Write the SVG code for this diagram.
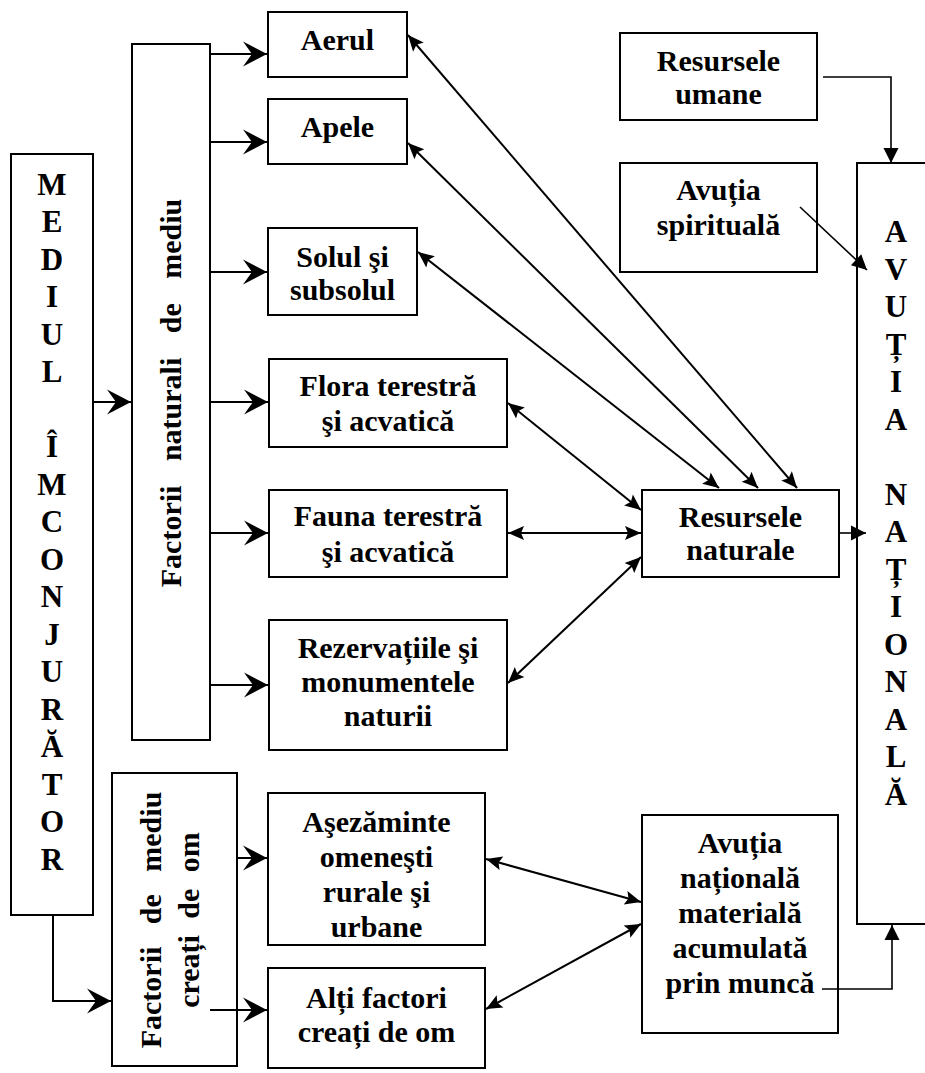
<svg xmlns="http://www.w3.org/2000/svg" width="925" height="1073" viewBox="0 0 925 1073">
<style>
.box{fill:#fff;stroke:#000;stroke-width:2}
.t{font-family:"Liberation Serif","Times New Roman",serif;font-weight:bold;font-size:30px;text-anchor:middle;fill:#000}
.v{font-family:"Liberation Serif","Times New Roman",serif;font-weight:bold;font-size:31px;text-anchor:middle;fill:#000}
.c{fill:none;stroke:#000;stroke-width:2}
.c2{fill:none;stroke:#000;stroke-width:1.6}
.big{marker-end:url(#big)}
.dbl{marker-start:url(#tri);marker-end:url(#tri)}
.one{marker-end:url(#tri2)}
</style>
<defs>
<marker id="big" markerUnits="userSpaceOnUse" markerWidth="30" markerHeight="30" refX="0" refY="0" orient="auto" overflow="visible">
<path d="M0,0 L-24,-12.5 L-15,0 L-24,12.5 Z" fill="#000"/>
</marker>
<marker id="tri" markerUnits="userSpaceOnUse" markerWidth="20" markerHeight="20" refX="0" refY="0" orient="auto-start-reverse" overflow="visible">
<path d="M0,0 L-16,-7 L-13,0 L-16,7 Z" fill="#000"/>
</marker>
<marker id="tri2" markerUnits="userSpaceOnUse" markerWidth="20" markerHeight="20" refX="0" refY="0" orient="auto" overflow="visible">
<path d="M0,0 L-15,-7.5 L-15,7.5 Z" fill="#000"/>
</marker>
</defs>

<g id="mediul">
<rect class="box" x="11" y="154" width="82" height="761"/>
<text class="v" x="52" y="195">M</text>
<text class="v" x="52" y="232">E</text>
<text class="v" x="52" y="269.5">D</text>
<text class="v" x="52" y="307">I</text>
<text class="v" x="52" y="344.5">U</text>
<text class="v" x="52" y="382">L</text>
<text class="v" x="52" y="457">Î</text>
<text class="v" x="52" y="494.5">M</text>
<text class="v" x="52" y="532">C</text>
<text class="v" x="52" y="569.5">O</text>
<text class="v" x="52" y="607">N</text>
<text class="v" x="52" y="644.5">J</text>
<text class="v" x="52" y="682">U</text>
<text class="v" x="52" y="719.5">R</text>
<text class="v" x="52" y="757">Ă</text>
<text class="v" x="52" y="794.5">T</text>
<text class="v" x="52" y="832">O</text>
<text class="v" x="52" y="869.5">R</text>
</g>

<g id="factori-naturali">
<rect class="box" x="132" y="44" width="78" height="696"/>
<text class="t" transform="translate(181,393) rotate(-90)" word-spacing="17">Factorii naturali de mediu</text>
</g>

<g id="aerul">
<rect class="box" x="268" y="12" width="139" height="65"/>
<text class="t" x="337.5" y="50">Aerul</text>
</g>
<g id="apele">
<rect class="box" x="268" y="99" width="139" height="65"/>
<text class="t" x="337.5" y="137">Apele</text>
</g>
<g id="solul">
<rect class="box" x="268" y="228" width="149" height="87"/>
<text class="t" x="342.5" y="267">Solul şi</text>
<text class="t" x="342.5" y="300">subsolul</text>
</g>
<g id="flora">
<rect class="box" x="269" y="359" width="238" height="88"/>
<text class="t" x="388" y="396">Flora terestră</text>
<text class="t" x="388" y="431">şi acvatică</text>
</g>
<g id="fauna">
<rect class="box" x="269" y="490" width="238" height="87"/>
<text class="t" x="388" y="526">Fauna terestră</text>
<text class="t" x="388" y="562">şi acvatică</text>
</g>
<g id="rezervatiile">
<rect class="box" x="269" y="620" width="238" height="130"/>
<text class="t" x="388" y="658">Rezervațiile şi</text>
<text class="t" x="388" y="692">monumentele</text>
<text class="t" x="388" y="726">naturii</text>
</g>

<g id="factori-creati">
<rect class="box" x="112" y="773" width="125" height="293"/>
<text class="t" transform="translate(161,920) rotate(-90)" word-spacing="15">Factorii de mediu</text>
<text class="t" transform="translate(199,920) rotate(-90)" word-spacing="9">creați de om</text>
</g>
<g id="asezaminte">
<rect class="box" x="268" y="793" width="217" height="152"/>
<text class="t" x="376.5" y="832">Aşezăminte</text>
<text class="t" x="376.5" y="867">omeneşti</text>
<text class="t" x="376.5" y="902">rurale şi</text>
<text class="t" x="376.5" y="937">urbane</text>
</g>
<g id="alti-factori">
<rect class="box" x="268" y="968" width="217" height="100"/>
<text class="t" x="376.5" y="1008">Alți factori</text>
<text class="t" x="376.5" y="1042">creați de om</text>
</g>

<g id="resurse-naturale">
<rect class="box" x="642" y="490" width="197" height="87"/>
<text class="t" x="740.5" y="527">Resursele</text>
<text class="t" x="740.5" y="560">naturale</text>
</g>
<g id="avutia-materiala">
<rect class="box" x="642" y="815" width="196" height="218"/>
<text class="t" x="740" y="853">Avuția</text>
<text class="t" x="740" y="888">națională</text>
<text class="t" x="740" y="923">materială</text>
<text class="t" x="740" y="958">acumulată</text>
<text class="t" x="740" y="993">prin muncă</text>
</g>
<g id="resurse-umane">
<rect class="box" x="620" y="33" width="197" height="87"/>
<text class="t" x="718.5" y="71">Resursele</text>
<text class="t" x="718.5" y="104">umane</text>
</g>
<g id="avutia-spirituala">
<rect class="box" x="620" y="163" width="197" height="109"/>
<text class="t" x="718.5" y="200">Avuția</text>
<text class="t" x="718.5" y="235">spirituală</text>
</g>

<g id="avutia-nationala">
<rect class="box" x="857" y="163" width="90" height="761"/>
<text class="v" x="896" y="242">A</text>
<text class="v" x="896" y="279.5">V</text>
<text class="v" x="896" y="317">U</text>
<text class="v" x="896" y="354.5">Ț</text>
<text class="v" x="896" y="392">I</text>
<text class="v" x="896" y="429.5">A</text>
<text class="v" x="896" y="504.5">N</text>
<text class="v" x="896" y="542">A</text>
<text class="v" x="896" y="579.5">Ț</text>
<text class="v" x="896" y="617">I</text>
<text class="v" x="896" y="654.5">O</text>
<text class="v" x="896" y="692">N</text>
<text class="v" x="896" y="729.5">A</text>
<text class="v" x="896" y="767">L</text>
<text class="v" x="896" y="804.5">Ă</text>
</g>

<g id="connectors">
<line class="c big" x1="93" y1="402" x2="131" y2="402"/>
<line class="c big" x1="210" y1="54" x2="267" y2="54"/>
<line class="c big" x1="210" y1="142" x2="267" y2="142"/>
<line class="c big" x1="210" y1="272" x2="267" y2="272"/>
<line class="c big" x1="210" y1="402" x2="268" y2="402"/>
<line class="c big" x1="210" y1="533" x2="268" y2="533"/>
<line class="c big" x1="210" y1="685" x2="268" y2="685"/>
<path class="c big" d="M53,915 V1001 H111"/>
<line class="c big" x1="237" y1="858" x2="267" y2="858"/>
<line class="c big" x1="210" y1="1010" x2="267" y2="1010"/>
<line class="c dbl" x1="408" y1="35" x2="797" y2="488"/>
<line class="c dbl" x1="408" y1="143" x2="758" y2="488"/>
<line class="c dbl" x1="418" y1="252" x2="719" y2="488"/>
<line class="c dbl" x1="508" y1="403" x2="641" y2="510"/>
<line class="c dbl" x1="508" y1="533" x2="641" y2="533"/>
<line class="c dbl" x1="508" y1="683" x2="641" y2="557"/>
<line class="c dbl" x1="486" y1="859" x2="641" y2="902"/>
<line class="c dbl" x1="486" y1="1009" x2="641" y2="924"/>
<path class="c2 one" d="M823,77 H891 V163"/>
<line class="c2 one" x1="800" y1="207" x2="867" y2="270"/>
<line class="c2 one" x1="839" y1="533" x2="866" y2="533"/>
<path class="c2 one" d="M822,989 H892 V925"/>
</g>
</svg>
